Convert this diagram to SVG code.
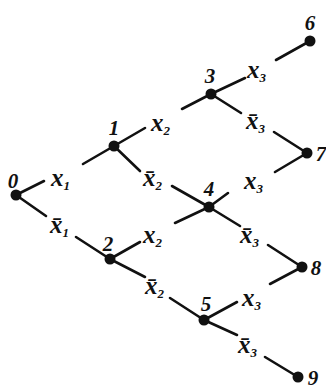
<svg xmlns="http://www.w3.org/2000/svg" width="326" height="390" viewBox="0 0 326 390">
<style>
.e{stroke:#111;stroke-width:2.6;stroke-linecap:round;fill:none}
.n{fill:#111}
.num{font-family:"Liberation Serif",serif;font-style:italic;font-weight:bold;font-size:21px;fill:#111;text-anchor:middle}
.lab{font-family:"Liberation Serif",serif;font-style:italic;font-weight:bold;font-size:25px;fill:#111}
.sub{font-size:13px}
</style>
<rect width="326" height="390" fill="#fff"/>
<g id="connectors">
<path class="e" d="M16 195 L44 181 M83 164 L114 146"/>
<path class="e" d="M16 195 L46 216 M76 237 L110 259"/>
<path class="e" d="M114 146 L145 128 M182 109 L211 94"/>
<path class="e" d="M114 146 L140 171 M172 186 L209 207"/>
<path class="e" d="M211 94 L245 78 M276 60 L310 41"/>
<path class="e" d="M211 94 L241 113 M274 132 L307 153"/>
<path class="e" d="M209 207 L228 193 M275 172 L307 153"/>
<path class="e" d="M110 259 L140 242 M175 223 L209 207"/>
<path class="e" d="M209 207 L240 226 M268 245 L302 267"/>
<path class="e" d="M110 259 L145 277 M170 298 L204 320"/>
<path class="e" d="M204 320 L237 302 M270 284 L302 267"/>
<path class="e" d="M204 320 L237 335 M265 357 L298 377"/>
</g>
<g id="edge-labels">
<text class="lab" x="51" y="186">x<tspan class="sub" dy="4">1</tspan></text>
<text class="lab" x="50" y="233">x̄<tspan class="sub" dy="4">1</tspan></text>
<text class="lab" x="151" y="131">x<tspan class="sub" dy="4">2</tspan></text>
<text class="lab" x="143" y="186">x̄<tspan class="sub" dy="4">2</tspan></text>
<text class="lab" x="247" y="78">x<tspan class="sub" dy="4">3</tspan></text>
<text class="lab" x="246" y="129">x̄<tspan class="sub" dy="4">3</tspan></text>
<text class="lab" x="244" y="189">x<tspan class="sub" dy="4">3</tspan></text>
<text class="lab" x="143" y="243">x<tspan class="sub" dy="4">2</tspan></text>
<text class="lab" x="240" y="243">x̄<tspan class="sub" dy="4">3</tspan></text>
<text class="lab" x="145" y="294">x̄<tspan class="sub" dy="4">2</tspan></text>
<text class="lab" x="242" y="306">x<tspan class="sub" dy="4">3</tspan></text>
<text class="lab" x="238" y="353">x̄<tspan class="sub" dy="4">3</tspan></text>
</g>
<g id="node0"><circle class="n" cx="16" cy="195" r="5.5"/><text class="num" x="13" y="188">0</text></g>
<g id="node1"><circle class="n" cx="114" cy="146" r="5.5"/><text class="num" x="114" y="135">1</text></g>
<g id="node2"><circle class="n" cx="110" cy="259" r="5.5"/><text class="num" x="108" y="251">2</text></g>
<g id="node3"><circle class="n" cx="211" cy="94" r="5.5"/><text class="num" x="210" y="83">3</text></g>
<g id="node4"><circle class="n" cx="209" cy="207" r="5.5"/><text class="num" x="209" y="196">4</text></g>
<g id="node5"><circle class="n" cx="204" cy="320" r="5.5"/><text class="num" x="206" y="311">5</text></g>
<g id="node6"><circle class="n" cx="310" cy="41" r="5.5"/><text class="num" x="310" y="30">6</text></g>
<g id="node7"><circle class="n" cx="307" cy="153" r="5.5"/><text class="num" x="321" y="161">7</text></g>
<g id="node8"><circle class="n" cx="302" cy="267" r="5.5"/><text class="num" x="316" y="275">8</text></g>
<g id="node9"><circle class="n" cx="298" cy="377" r="5.5"/><text class="num" x="313" y="385">9</text></g>
</svg>
